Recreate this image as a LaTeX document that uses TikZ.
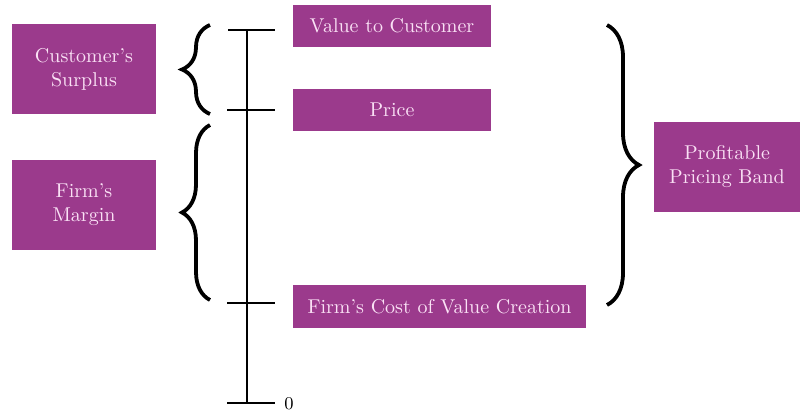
\documentclass[tikz,border=0pt]{standalone}
\usepackage{tikz}
\usetikzlibrary{decorations.pathreplacing}

\definecolor{bandpurple}{RGB}{155,58,140}
\definecolor{bandtext}{RGB}{250,225,245}

\begin{document}
\begin{tikzpicture}[x=0.5pt,y=-0.5pt]
\tikzstyle{label box}=[fill=bandpurple,text=bandtext,inner sep=0pt,align=center,font=\normalsize]
\tikzstyle{axis}=[black,line width=1.4pt]
\tikzstyle{bracket}=[black,line width=1.9pt,decorate]
\useasboundingbox (0,0) rectangle (803,412);
% boxes
\node [label box,minimum width=72pt,minimum height=45pt] (surplus) at (84,69) {Customer's\\Surplus};
\node [label box,minimum width=72pt,minimum height=45pt] (margin) at (84,205) {Firm's\\Margin};
\node [label box,minimum width=99pt,minimum height=21pt] (value) at (392,26) {Value to Customer};
\node [label box,minimum width=99pt,minimum height=21pt] (price) at (392,110) {Price};
\node [label box,minimum width=146.5pt,minimum height=21.5pt] (cost) at (439.5,306.5) {Firm's Cost of Value Creation};
\node [label box,minimum width=73pt,minimum height=45pt] (band) at (727,167) {Profitable\\Pricing Band};
% axis
\draw [axis] (247,30) -- (247,403);
\draw [axis] (228,30) -- (275,30);
\draw [axis] (227,110) -- (275,110);
\draw [axis] (227,303) -- (275,303);
\draw [axis] (227,403) -- (275,403);
\node [inner sep=0pt] (zero) at (289,404) {\small 0};
% braces
\draw [bracket,decoration={brace,amplitude=14pt}] (210,114) -- (210,25);
\draw [bracket,decoration={brace,amplitude=14pt}] (210,300) -- (210,125);
\draw [bracket,decoration={brace,amplitude=16pt}] (607,25) -- (607,305);
\end{tikzpicture}
\end{document}
